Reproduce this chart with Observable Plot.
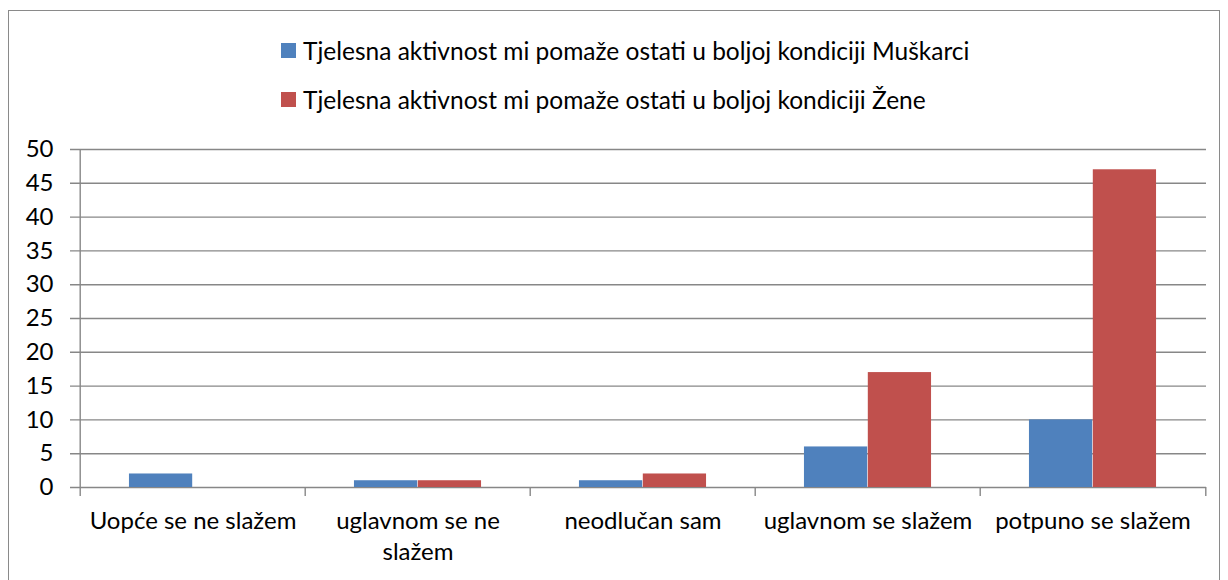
<!DOCTYPE html>
<html><head><meta charset="utf-8">
<script src="https://cdn.jsdelivr.net/npm/d3@7"></script>
<script src="https://cdn.jsdelivr.net/npm/@observablehq/plot@0.6"></script>
<style>
body{margin:0;background:#fff;font-family:Lato,sans-serif;}
#wrap{position:relative;width:1228px;height:580px;overflow:hidden;}
#border{position:absolute;left:8px;top:10px;width:1212px;height:620px;border:1.5px solid #8a8a8a;box-sizing:border-box;}
#legend{position:relative;height:131px;}
.row{position:absolute;left:281px;height:30px;display:flex;align-items:center;font-size:24.5px;color:#000;white-space:nowrap;}
.sw{width:15px;height:15px;margin-right:7px;flex:none;}
#chart{position:relative;}
</style></head><body>
<div id="wrap"><div id="border"></div><div id="legend"></div><div id="chart"></div></div>
<script>
const categories = ["Uopće se ne slažem", "uglavnom se ne slažem", "neodlučan sam", "uglavnom se slažem", "potpuno se slažem"];
const tickLabels = ["Uopće se ne slažem", "uglavnom se ne\nslažem", "neodlučan sam", "uglavnom se slažem", "potpuno se slažem"];
const seriesNames = ["Tjelesna aktivnost mi pomaže ostati u boljoj kondiciji Muškarci", "Tjelesna aktivnost mi pomaže ostati u boljoj kondiciji Žene"];
const muskarci = [2, 1, 1, 6, 10];
const zene = [0, 1, 2, 17, 47];
const colors = ["#4F81BD", "#C0504D"];
const yTicks = [0, 5, 10, 15, 20, 25, 30, 35, 40, 45, 50];

// legend
const legend = document.getElementById("legend");
seriesNames.forEach((name, i) => {
  const row = document.createElement("div");
  row.className = "row";
  row.style.top = (i === 0 ? 35 : 84) + "px";
  const sw = document.createElement("span");
  sw.className = "sw";
  sw.style.background = colors[i];
  const t = document.createElement("span");
  t.textContent = name;
  row.appendChild(sw); row.appendChild(t);
  legend.appendChild(row);
});

const data = categories.map((c, i) => ({category: c, m: muskarci[i], z: zene[i]}));

const W = 1228, H = 449, mL = 78, mR = 22, mT = 18, mB = 93;
const bw = (W - mL - mR) / categories.length;
const gap = bw * 0.217;
const barW = (bw - 2 * gap) / 2;
const gridColor = "#878787";

const chart = Plot.plot({
  width: W, height: H,
  marginLeft: mL, marginRight: mR, marginTop: mT, marginBottom: mB,
  style: {fontFamily: "Lato, sans-serif", fontSize: "24px", color: "#000", background: "transparent", overflow: "visible"},
  x: {domain: categories, padding: 0, axis: null, label: null},
  y: {domain: [0, 50], axis: null, label: null},
  marks: [
    Plot.ruleY(yTicks, {y: d => d, stroke: gridColor, strokeWidth: 1.4, insetLeft: -8}),
    Plot.barY(data, {x: "category", y: "m", fill: colors[0], insetLeft: gap, insetRight: gap + barW}),
    Plot.barY(data, {x: "category", y: "z", fill: colors[1], insetLeft: gap + barW, insetRight: gap}),
    Plot.ruleX([categories[0]], {x: d => d, y1: 50, y2: 0, dx: -bw / 2, insetBottom: -9, stroke: gridColor, strokeWidth: 1.4}),
    Plot.ruleX(categories.slice(1), {x: d => d, y1: 0, y2: 0, dx: -bw / 2, insetBottom: -9, stroke: gridColor, strokeWidth: 1.4}),
    Plot.ruleX([categories[categories.length - 1]], {x: d => d, y1: 0, y2: 0, dx: bw / 2, insetBottom: -9, stroke: gridColor, strokeWidth: 1.4}),
    Plot.axisY({ticks: yTicks, tickSize: 0, tickPadding: 25, fill: "#000", label: null}),
    Plot.axisX({tickSize: 0, tickPadding: 19, tickFormat: (d) => tickLabels[categories.indexOf(d)], lineHeight: 1.3, fill: "#000", label: null})
  ]
});
document.getElementById("chart").appendChild(chart);
</script>
</body></html>
